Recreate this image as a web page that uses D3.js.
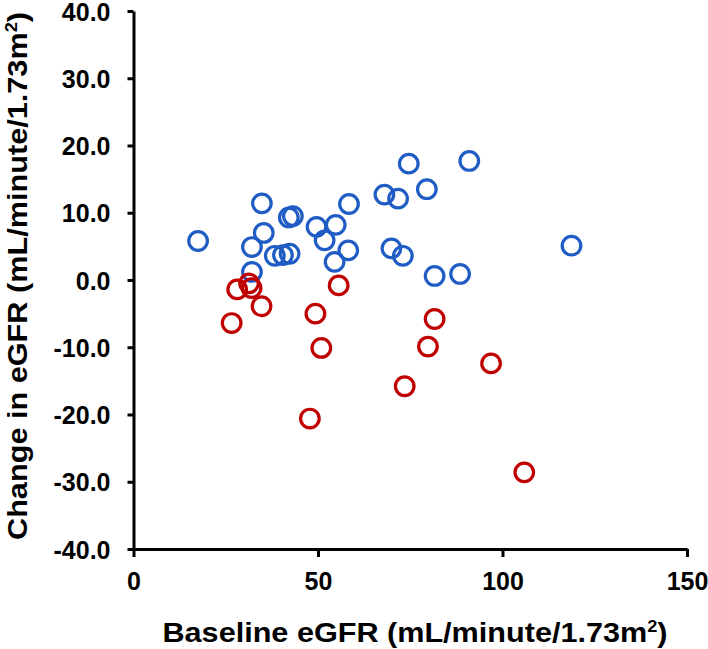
<!DOCTYPE html>
<html>
<head>
<meta charset="utf-8">
<script src="https://cdn.jsdelivr.net/npm/d3@7"></script>
<style>
  html, body { margin: 0; padding: 0; background: #fff; }
  svg { display: block; }
  text { font-family: "Liberation Sans", Arial, sans-serif; font-weight: bold; fill: #000; }
</style>
</head>
<body>
<svg id="chart" width="708" height="649"></svg>
<script>
// Baseline eGFR vs change in eGFR — improvers (blue) and decliners (red)
const blueBaseline = [17.5, 34.8, 35.3, 32.1, 32.1, 38.3, 40.5, 42.3, 42.1, 43.2, 49.6, 51.8, 54.8, 54.5, 58.2, 58.4, 68.0, 71.7, 74.6, 69.9, 73.0, 79.5, 91.0, 118.7, 81.6, 88.5];
const blueChange   = [5.8, 11.4, 7.0, 4.9, 1.2, 3.6, 3.7, 3.9, 9.3, 9.5, 7.9, 5.9, 8.2, 2.7, 4.4, 11.3, 12.7, 12.1, 17.3, 4.7, 3.6, 13.5, 17.7, 5.1, 0.6, 0.9];
const redBaseline  = [26.6, 28.1, 31.3, 32.0, 34.7, 49.3, 50.9, 47.8, 55.6, 73.5, 81.6, 79.8, 96.9, 105.9];
const redChange    = [-6.4, -1.4, -0.5, -1.2, -3.9, -5.0, -10.1, -20.6, -0.8, -15.8, -5.8, -9.9, -12.4, -28.6];
const xTicks = [0, 50, 100, 150];
const yTicks = [40, 30, 20, 10, 0, -10, -20, -30, -40];

const svg = d3.select("#chart");
const x = d3.scaleLinear().domain([0, 150]).range([133.5, 687]);
const y = d3.scaleLinear().domain([-40, 40]).range([549, 11]);

// points
function drawSeries(xs, ys, color) {
  svg.append("g").selectAll("circle")
    .data(xs.map((v, i) => [v, ys[i]]))
    .join("circle")
    .attr("cx", d => x(d[0]))
    .attr("cy", d => y(d[1]))
    .attr("r", 9.3)
    .attr("fill", "none")
    .attr("stroke", color)
    .attr("stroke-width", 3.2);
}
drawSeries(blueBaseline, blueChange, "#1f5cc4");
drawSeries(redBaseline, redChange, "#c00000");

// axes
const fmtY = d => d.toFixed(1);
const yAxis = d3.axisLeft(y).tickValues(yTicks).tickSize(6).tickSizeOuter(0).tickFormat(fmtY);
const xAxis = d3.axisBottom(x).tickValues(xTicks).tickSize(8).tickSizeOuter(0).tickFormat(d => String(d));

const gy = svg.append("g").attr("transform", `translate(${x(0)},0)`).call(yAxis);
const gx = svg.append("g").attr("transform", `translate(0,${y(-40)})`).call(xAxis);

[gx, gy].forEach(g => {
  g.select(".domain").attr("stroke", "#000").attr("stroke-width", 3);
  g.selectAll(".tick line").attr("stroke", "#000").attr("stroke-width", 3);
  g.selectAll(".tick text")
    .attr("font-family", "Liberation Sans, Arial, sans-serif")
    .attr("font-weight", "bold")
    .attr("font-size", 25)
    .attr("fill", "#000");
});
gy.selectAll(".tick text").attr("x", -23).attr("dy", "0.36em");
gx.selectAll(".tick text").attr("y", 23).attr("dy", "0.71em");

// axis titles
const xt = svg.append("text")
  .attr("x", 415).attr("y", 642)
  .attr("text-anchor", "middle")
  .attr("font-size", 27)
  .attr("textLength", 505).attr("lengthAdjust", "spacingAndGlyphs");
xt.append("tspan").text("Baseline eGFR (mL/minute/1.73m");
xt.append("tspan").attr("font-size", 16).attr("dy", -10).text("2");
xt.append("tspan").attr("dy", 10).text(")");

const yt = svg.append("text")
  .attr("transform", "translate(27,276) rotate(-90)")
  .attr("text-anchor", "middle")
  .attr("font-size", 27)
  .attr("textLength", 528).attr("lengthAdjust", "spacingAndGlyphs");
yt.append("tspan").text("Change in eGFR (mL/minute/1.73m");
yt.append("tspan").attr("font-size", 16).attr("dy", -10).text("2");
yt.append("tspan").attr("dy", 10).text(")");
</script>
</body>
</html>
